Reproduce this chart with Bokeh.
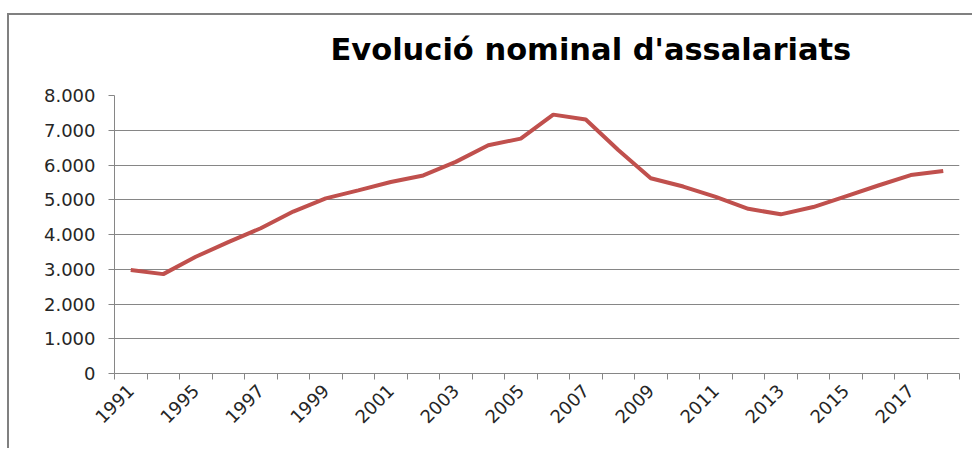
from bokeh.plotting import figure
from bokeh.models import FixedTicker, Title, Range1d
from bokeh.embed import file_html
from bokeh.resources import INLINE
import math

years = ["1991", "1993", "1995", "1996", "1997", "1998", "1999", "2000", "2001",
         "2002", "2003", "2004", "2005", "2006", "2007", "2008", "2009", "2010",
         "2011", "2012", "2013", "2014", "2015", "2016", "2017", "2018"]
values = [2980, 2860, 3360, 3780, 4180, 4660, 5040, 5270, 5510, 5700, 6090,
          6570, 6760, 7450, 7310, 6430, 5620, 5380, 5080, 4740, 4580, 4790,
          5100, 5410, 5710, 5830]
y_ticks = [0, 1000, 2000, 3000, 4000, 5000, 6000, 7000, 8000]
title_text = "Evolució nominal d'assalariats"

xs = list(range(len(years)))
GRAY = "#868686"

p = figure(width=965, height=435, output_backend="svg", toolbar_location=None,
           x_range=Range1d(-0.5, len(years) - 0.5), y_range=Range1d(0, 8000),
           min_border_left=105, min_border_right=15, min_border_top=80,
           min_border_bottom=77,
           styles={"margin-left": "7px", "margin-top": "13px",
                   "border-left": "2px solid #808080",
                   "border-top": "2px solid #808080"})
p.outline_line_color = None
p.background_fill_color = "white"
p.border_fill_color = "white"

p.line(xs, values, line_color="#C0504D", line_width=4)

# x axis
label_idx = list(range(0, len(years), 2))
p.xaxis.ticker = FixedTicker(ticks=label_idx,
                             minor_ticks=[i - 0.5 for i in range(len(years) + 1)])
p.xaxis.major_label_overrides = {i: years[i] for i in label_idx}
p.xaxis.major_label_orientation = math.pi / 4
p.xaxis.major_tick_out = 0
p.xaxis.major_tick_in = 0
p.xaxis.minor_tick_out = 6
p.xaxis.minor_tick_in = 0
p.xaxis.minor_tick_line_color = GRAY
p.xaxis.axis_line_color = GRAY
p.xaxis.major_label_text_font = "DejaVu Sans"
p.xaxis.major_label_text_font_size = "18px"
p.xaxis.major_label_text_color = "#262626"
p.xaxis.major_label_standoff = 8
p.xgrid.grid_line_color = None

# y axis
p.yaxis.ticker = FixedTicker(ticks=y_ticks)
p.yaxis.major_label_overrides = {v: f"{v:,}".replace(",", ".") for v in y_ticks}
p.yaxis.major_tick_out = 6
p.yaxis.major_tick_in = 0
p.yaxis.major_tick_line_color = GRAY
p.yaxis.minor_tick_line_color = None
p.yaxis.axis_line_color = GRAY
p.yaxis.major_label_text_font = "DejaVu Sans"
p.yaxis.major_label_text_font_size = "18px"
p.yaxis.major_label_text_color = "#262626"
p.yaxis.major_label_standoff = 13
p.ygrid.grid_line_color = GRAY
p.ygrid.grid_line_width = 1

# spacer between frame and title, then the title itself
p.add_layout(Title(text=" ", text_font_size="10px", standoff=11,
                   text_color="white"), "above")
p.add_layout(Title(text=title_text, align="left", offset=216, standoff=10,
                   text_font="DejaVu Sans", text_font_size="30.5px",
                   text_font_style="bold", text_color="#000000"), "above")

open("out.html", "w").write(file_html(p, INLINE))
